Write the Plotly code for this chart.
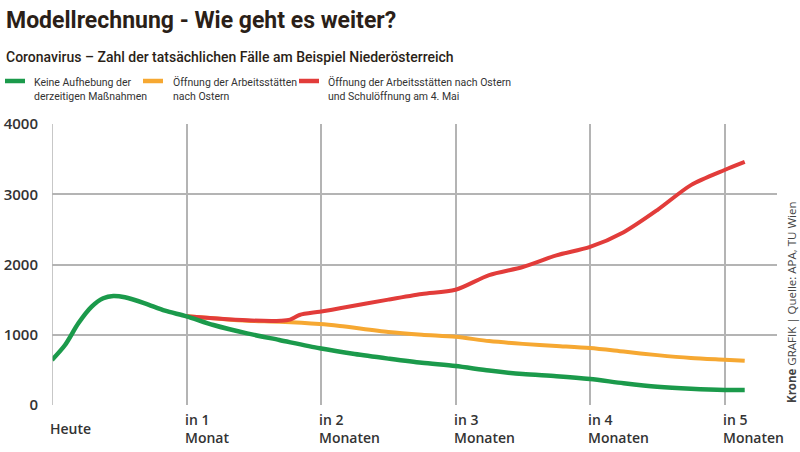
import plotly.graph_objects as go

# months from today
green_x = [0, 0.097, 0.196, 0.295, 0.381, 0.456, 0.542, 0.69, 0.84, 1.0, 1.2, 1.45, 1.69, 1.99, 2.25, 2.5, 2.75, 3.0, 3.25, 3.5, 3.75, 4.0, 4.25, 4.5, 4.75, 5.0, 5.15]
green_y = [641, 854, 1163, 1400, 1519, 1552, 1533, 1447, 1342, 1262, 1139, 1020, 925, 807, 725, 660, 600, 555, 490, 440, 410, 370, 310, 260, 230, 213, 213]

orange_x = [1.0, 1.2, 1.45, 1.69, 1.99, 2.14, 2.5, 2.75, 3.0, 3.25, 3.5, 3.75, 4.0, 4.25, 4.5, 4.75, 5.0, 5.15]
orange_y = [1262, 1234, 1200, 1186, 1153, 1125, 1040, 1000, 970, 910, 870, 840, 810, 760, 710, 670, 645, 630]

red_x = [1.0, 1.2, 1.45, 1.7, 1.77, 1.84, 1.99, 2.14, 2.5, 2.75, 3.0, 3.25, 3.5, 3.75, 4.0, 4.25, 4.5, 4.75, 5.0, 5.15]
red_y = [1262, 1234, 1205, 1200, 1215, 1281, 1328, 1376, 1500, 1580, 1640, 1850, 1965, 2130, 2250, 2460, 2775, 3130, 3345, 3460]

x_tick_vals = [0, 1, 2, 3, 4, 5]
x_tick_labels = ["Heute", "in 1<br>Monat", "in 2<br>Monaten", "in 3<br>Monaten", "in 4<br>Monaten", "in 5<br>Monaten"]
y_tick_vals = [0, 1000, 2000, 3000, 4000]

series_names = ["Keine Aufhebung der<br>derzeitigen Maßnahmen",
                "Öffnung der Arbeitsstätten<br>nach Ostern",
                "Öffnung der Arbeitsstätten nach Ostern<br>und Schulöffnung am 4. Mai"]
colors = ["#1b9a4b", "#f6a832", "#e23c3a"]

W, H = 800, 452
L, R, T, B = 52, 23, 124, 47


def px(p):
    return (p - L) / (W - L - R)


def py(p):
    return (H - B - p) / (H - T - B)


fig = go.Figure()
fig.add_trace(go.Scatter(x=orange_x, y=orange_y, mode="lines", line=dict(color=colors[1], width=4, shape="spline", smoothing=0.8)))
fig.add_trace(go.Scatter(x=red_x, y=red_y, mode="lines", line=dict(color=colors[2], width=4, shape="spline", smoothing=0.8)))
fig.add_trace(go.Scatter(x=green_x, y=green_y, mode="lines", line=dict(color=colors[0], width=4.5, shape="spline", smoothing=0.8)))

font_main = "Roboto, Liberation Sans, sans-serif"
tick_font = dict(family="Open Sans, sans-serif", size=14, color="#333333", weight=600)

fig.update_layout(
    width=W, height=H,
    margin=dict(l=L, r=R, t=T, b=B),
    paper_bgcolor="white", plot_bgcolor="white",
    showlegend=False,
    xaxis=dict(range=[0, 5.39], tickvals=x_tick_vals, showticklabels=False, automargin=False,
               showgrid=True, gridcolor="#b4b4b4", gridwidth=1.5, zeroline=False,
               showline=False, fixedrange=True),
    yaxis=dict(range=[0, 4000], tickvals=y_tick_vals, showgrid=True, gridcolor="#b4b4b4", gridwidth=1.5,
               zeroline=False, showline=False, automargin=False,
               tickfont=dict(family="Open Sans, sans-serif", size=15, color="#333333", weight=600),
               ticks="", ticklabelstandoff=13),
)

# vertical axis line at "Heute"
fig.add_shape(type="line", xref="x", yref="y", x0=0, x1=0, y0=0, y1=4000, line=dict(color="#b4b4b4", width=1.5))

for v, t in zip(x_tick_vals, x_tick_labels):
    fig.add_annotation(x=v, y=py(428), xref="x", yref="paper", text=t, showarrow=False,
                       xanchor="left", yanchor="middle", align="left", xshift=-4,
                       font=tick_font)

fig.add_annotation(x=px(4), y=py(21), xref="paper", yref="paper", xanchor="left", yanchor="middle",
                   text="<b>Modellrechnung - Wie geht es weiter?</b>", showarrow=False,
                   font=dict(family=font_main, size=23, color="#2b1f18"))
fig.add_annotation(x=px(4), y=py(57), xref="paper", yref="paper", xanchor="left", yanchor="middle",
                   text="Coronavirus – Zahl der tatsächlichen Fälle am Beispiel Niederösterreich", showarrow=False,
                   font=dict(family=font_main, size=14, color="#2b1f18", weight=500))

leg_x = [5, 143, 299]
leg_tx = [33, 172, 327]
for lx, tx, name, c in zip(leg_x, leg_tx, series_names, colors):
    fig.add_shape(type="line", xref="paper", yref="paper", x0=px(lx), x1=px(lx + 20),
                  y0=py(81), y1=py(81), line=dict(color=c, width=4.5))
    fig.add_annotation(x=px(tx - 1), y=py(90), xref="paper", yref="paper", xanchor="left", yanchor="middle",
                       text=name, showarrow=False, align="left",
                       font=dict(family=font_main, size=10.5, color="#333333"))

fig.add_annotation(x=px(791), y=py(303), xref="paper", yref="paper", xanchor="center", yanchor="middle",
                   text="<b>Krone</b> GRAFIK | Quelle: APA, TU Wien", textangle=-90, showarrow=False,
                   font=dict(family="Open Sans, sans-serif", size=11.5, color="#444444"))

fig.write_html("out.html", config={"displayModeBar": False},
               post_script="document.body.style.margin='0';document.body.style.overflow='hidden';")
